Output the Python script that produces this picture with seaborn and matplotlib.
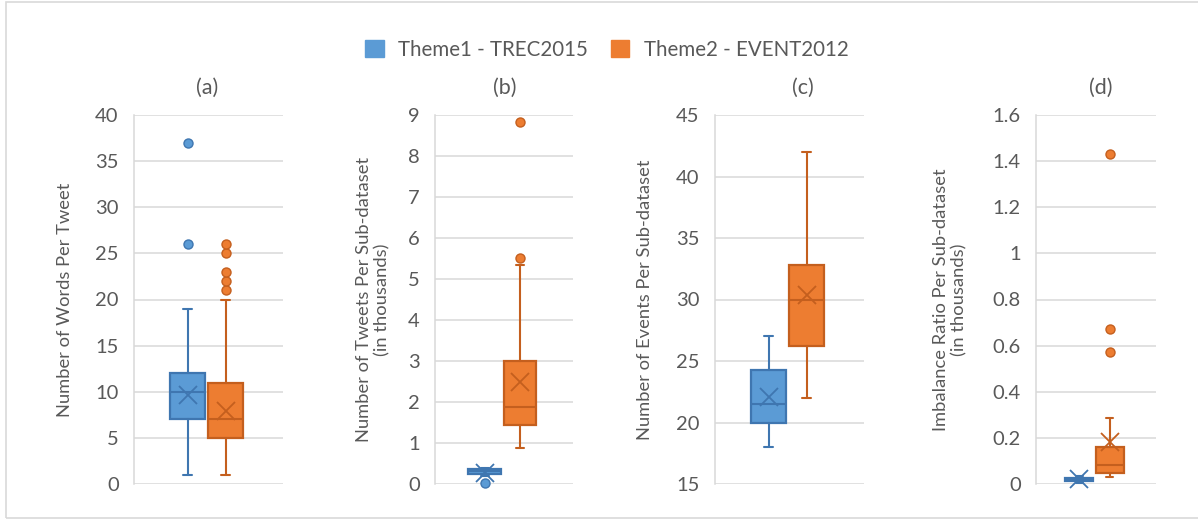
"""Box plots of the TREC2015 and EVENT2012 sub-datasets."""

import matplotlib

matplotlib.use("Agg")
import matplotlib.pyplot as plt
import seaborn as sns
from matplotlib.patches import Patch, Rectangle
from matplotlib.ticker import FuncFormatter, MultipleLocator

# --- data ---
panels = ["(a)", "(b)", "(c)", "(d)"]
series = ["Theme1 - TREC2015", "Theme2 - EVENT2012"]
ylabels = [
    "Number of Words Per Tweet",
    "Number of Tweets Per Sub-dataset\n(in thousands)",
    "Number of Events Per Sub-dataset",
    "Imbalance Ratio Per Sub-dataset\n(in thousands)",
]
ylims = [(0, 40), (0, 9), (15, 45), (0, 1.6)]
ysteps = [5, 1, 5, 0.2]

# Theme1 - TREC2015
t1_whislo = [1, 0.20, 18, 0.005]
t1_q1 = [7, 0.24, 20, 0.012]
t1_med = [10, 0.31, 21.5, 0.02]
t1_q3 = [12, 0.36, 24.3, 0.028]
t1_whishi = [19, 0.40, 27, 0.035]
t1_mean = [9.6, 0.27, 22.1, 0.02]
t1_fliers = [[26, 37], [0.02], [], []]

# Theme2 - EVENT2012
t2_whislo = [1, 0.89, 22, 0.029]
t2_q1 = [5, 1.43, 26.2, 0.049]
t2_med = [7, 1.89, 30, 0.082]
t2_q3 = [11, 3.0, 32.8, 0.159]
t2_whishi = [20, 5.34, 42, 0.285]
t2_mean = [7.9, 2.48, 30.4, 0.18]
t2_fliers = [[21, 22, 23, 25, 26], [5.52, 8.83], [], [0.574, 0.671, 1.429]]

fills = ["#5B9BD5", "#ED7D31"]
edges = ["#3F76B0", "#C45F1E"]
GRID = "#D9D9D9"
TEXT = "#595959"

sns.set_style("white")
plt.rcParams["font.family"] = ["Lato", "DejaVu Sans"]

W, H = 1198, 519
fig = plt.figure(figsize=(W / 100, H / 100), dpi=100)

# axes boxes in pixels: left, width
ax_px = [(134, 149), (435, 138), (715, 149), (1036, 120)]
title_x = [207, 505, 803, 1101]
label_x = [-0.463, -0.449, -0.47, -0.717]
top, bottom = 115, 484

stats_t1 = zip(t1_whislo, t1_q1, t1_med, t1_q3, t1_whishi, t1_mean, t1_fliers)
stats_t2 = zip(t2_whislo, t2_q1, t2_med, t2_q3, t2_whishi, t2_mean, t2_fliers)

for i, (s1, s2) in enumerate(zip(stats_t1, stats_t2)):
    left, width = ax_px[i]
    ax = fig.add_axes([left / W, 1 - bottom / H, width / W, (bottom - top) / H])

    for j, s in enumerate([s1, s2]):
        lo, q1, med, q3, hi, mean, fl = s
        stat = dict(whislo=lo, q1=q1, med=med, q3=q3, whishi=hi, mean=mean, fliers=fl)
        arts = ax.bxp(
            [stat],
            positions=[[0.36, 0.615][j]],
            widths=0.235,
            capwidths=0.06,
            patch_artist=True,
            showmeans=True,
            boxprops=dict(facecolor=fills[j], edgecolor=edges[j], linewidth=1.6),
            whiskerprops=dict(color=edges[j], linewidth=1.5),
            capprops=dict(color=edges[j], linewidth=1.5),
            medianprops=dict(color=edges[j], linewidth=1.5),
            meanprops=dict(marker="x", markersize=13, markeredgecolor=edges[j],
                           markeredgewidth=1.3),
            flierprops=dict(marker="o", markersize=6.5, markerfacecolor=fills[j],
                            markeredgecolor=edges[j], markeredgewidth=1),
            manage_ticks=False,
        )
        for group in arts.values():
            for a in group:
                a.set_clip_on(False)

    ax.set_xlim(0, 1)
    ax.set_ylim(*ylims[i])
    ax.yaxis.set_major_locator(MultipleLocator(ysteps[i]))
    ax.yaxis.set_major_formatter(FuncFormatter(lambda v, _: f"{round(v, 3):g}"))
    ax.set_xticks([])
    ax.grid(axis="y", color=GRID, linewidth=1.1)
    ax.set_axisbelow(True)
    for side in ["top", "right", "bottom"]:
        ax.spines[side].set_visible(False)
    ax.spines["left"].set_color(GRID)
    ax.spines["left"].set_linewidth(1.1)
    ax.tick_params(axis="y", length=0, pad=11, labelsize=14.5, labelcolor=TEXT)

    ax.set_ylabel(ylabels[i], fontsize=13.2, color=TEXT, va="center", linespacing=1.15)
    ax.yaxis.set_label_coords(label_x[i], 0.5)

    fig.text(title_x[i] / W, 1 - 88 / H, panels[i], ha="center", va="center",
             fontsize=15.5, color=TEXT)

handles = [Patch(facecolor=fills[k], edgecolor=fills[k], label=series[k]) for k in range(2)]
fig.legend(
    handles=handles,
    loc="center",
    bbox_to_anchor=(607 / W, 1 - 50 / H),
    ncol=2,
    frameon=False,
    fontsize=14.8,
    labelcolor=TEXT,
    handlelength=0.9,
    handleheight=0.9,
    handletextpad=0.7,
    columnspacing=1.1,
)

fig.add_artist(Rectangle((6 / W, 1 / H), 1.1, (517 - 1) / H, transform=fig.transFigure,
                         fill=False, edgecolor=GRID, linewidth=1.2))

fig.savefig("out.png", dpi=100)
